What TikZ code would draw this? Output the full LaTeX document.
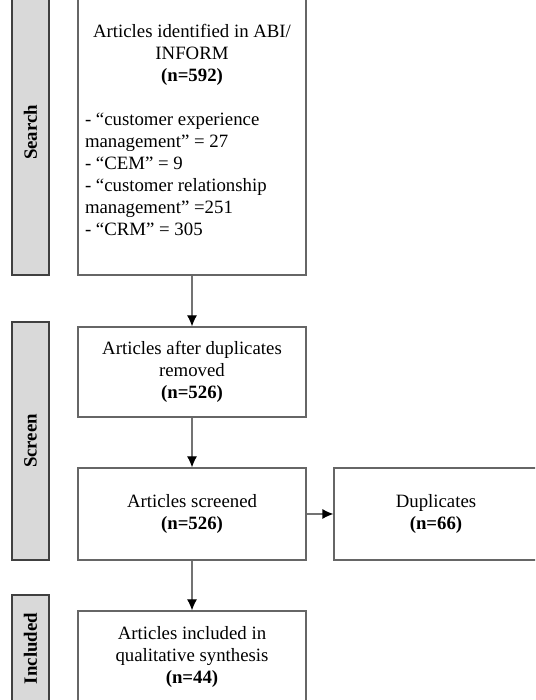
\documentclass[tikz,border=0pt]{standalone}
\usepackage{fontspec}
\setmainfont{Liberation Serif}
\usetikzlibrary{arrows.meta}
\usetikzlibrary{positioning}

\begin{document}
\begin{tikzpicture}[
	x=1pt, y=1pt,
	> = {Latex[length=11pt,width=10pt,color=black]},
	every node/.style = {font=\fontsize{18.8}{22}\selectfont},
	stage/.style = {draw=black!75, fill=black!15, line width=1.3pt, rotate=90, minimum height=37pt, inner sep=0pt, font=\fontsize{18.8}{22}\selectfont\bfseries},
	box/.style = {draw=black!60, line width=1.2pt, minimum width=228pt, inner sep=0pt},
	flow/.style = {->, draw=black!55, line width=1.2pt}
	]
	\useasboundingbox (0,0) rectangle (535,700);
	\clip (0,0) rectangle (535,700);

	\node[stage, minimum width=285pt] (search) at (30.5,567.5) {Search};
	\node[stage, minimum width=238pt] (screen) at (30.5,259) {Screen};
	\node[stage, minimum width=107pt] (incl) at (30.5,51.5) {Included};

	\node[box, minimum height=290pt] (found) at (192,570) {\begin{minipage}{214pt}
		\centering Articles identified in ABI/\\INFORM\\\textbf{(n=592)}\par
		\vspace{22pt}
		\raggedright - “customer experience\\management” = 27\\- “CEM” = 9\\- “customer relationship\\management” =251\\- “CRM” = 305
	\end{minipage}};
	\node[box, align=center, minimum height=90pt] (nodup) at (192,328) {Articles after duplicates\\removed\\\textbf{(n=526)}};
	\node[box, align=center, minimum height=92pt] (screened) at (192,186) {Articles screened\\\textbf{(n=526)}};
	\node[box, align=center, minimum height=92pt, minimum width=204pt] (dups) at (436,186) {Duplicates\\\textbf{(n=66)}};
	\node[box, align=center, minimum height=91pt] (synth) at (192,43.5) {Articles included in\\qualitative synthesis\\\textbf{(n=44)}};

	\draw[flow] (found) -- (nodup);
	\draw[flow] (nodup) -- (screened);
	\draw[flow] (screened) -- (dups);
	\draw[flow] (screened) -- (synth);

\end{tikzpicture}
\end{document}
